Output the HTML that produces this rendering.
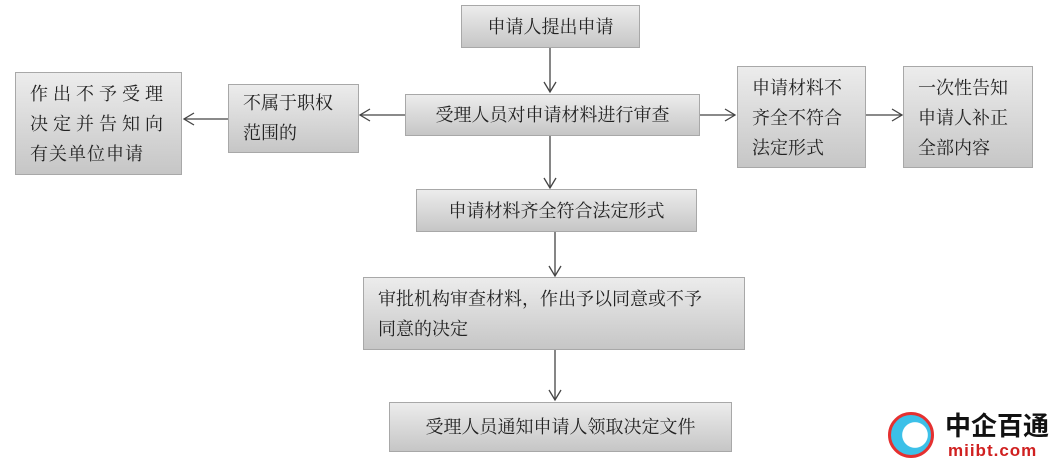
<!DOCTYPE html>
<html><head><meta charset="utf-8"><style>
body{margin:0;width:1057px;height:465px;background:#fff;position:relative;overflow:hidden;font-family:"Liberation Serif","Noto Serif CJK SC",serif;}
.b{position:absolute;box-sizing:border-box;border:1px solid #a8a8a8;background:linear-gradient(#ececec,#c6c6c6);font-size:18px;color:#222;line-height:30px;}
.c{display:flex;align-items:center;justify-content:center;}
.t{padding:8px 0 0 14px;}
svg{position:absolute;left:0;top:0;}
</style></head><body>
<svg width="1057" height="465" stroke="#444" stroke-width="1.3" fill="none">
<line x1="550" y1="48" x2="550" y2="92"/><polyline points="544,82 550,92 556,82"/>
<line x1="550" y1="136" x2="550" y2="188"/><polyline points="544,178 550,188 556,178"/>
<line x1="555" y1="232" x2="555" y2="276"/><polyline points="549,266 555,276 561,266"/>
<line x1="555" y1="350" x2="555" y2="400"/><polyline points="549,390 555,400 561,390"/>
<line x1="405" y1="115" x2="360" y2="115"/><polyline points="370,109 360,115 370,121"/>
<line x1="228" y1="119" x2="184" y2="119"/><polyline points="194,113 184,119 194,125"/>
<line x1="700" y1="115" x2="735" y2="115"/><polyline points="725,109 735,115 725,121"/>
<line x1="866" y1="115" x2="902" y2="115"/><polyline points="892,109 902,115 892,121"/>
</svg>
<div class="b c" style="left:461px;top:5px;width:179px;height:43px">申请人提出申请</div>
<div class="b c" style="left:405px;top:94px;width:295px;height:42px">受理人员对申请材料进行审查</div>
<div class="b t" style="left:228px;top:84px;width:131px;height:69px;padding-top:3px">不属于职权<br>范围的</div>
<div class="b t" style="left:15px;top:72px;width:167px;height:103px;padding-top:6px;letter-spacing:5px">作出不予受理<br>决定并告知向<br><span style="letter-spacing:1px">有关单位申请</span></div>
<div class="b t" style="left:737px;top:66px;width:129px;height:102px;padding-top:6px">申请材料不<br>齐全不符合<br>法定形式</div>
<div class="b t" style="left:903px;top:66px;width:130px;height:102px;padding-top:6px">一次性告知<br>申请人补正<br>全部内容</div>
<div class="b c" style="left:416px;top:189px;width:281px;height:43px">申请材料齐全符合法定形式</div>
<div class="b t" style="left:363px;top:277px;width:382px;height:73px;padding-top:6px">审批机构审查材料，作出予以同意或不予<br>同意的决定</div>
<div class="b c" style="left:389px;top:402px;width:343px;height:50px">受理人员通知申请人领取决定文件</div>
<div style="position:absolute;left:888px;top:412px;width:46px;height:46px;border-radius:50%;background:radial-gradient(circle at 60% 50%,#fff 40%,#3cc0e8 42%);border:3px solid #e53030;box-sizing:border-box"></div>
<div style="position:absolute;left:945px;top:410px;white-space:nowrap;font:bold 26px 'Noto Sans CJK SC',sans-serif;color:#111;line-height:30px">中企百通</div>
<div style="position:absolute;left:948px;top:441px;white-space:nowrap;font:bold 17px 'Liberation Sans',sans-serif;color:#d02020;letter-spacing:1px">miibt.com</div>
</body></html>
